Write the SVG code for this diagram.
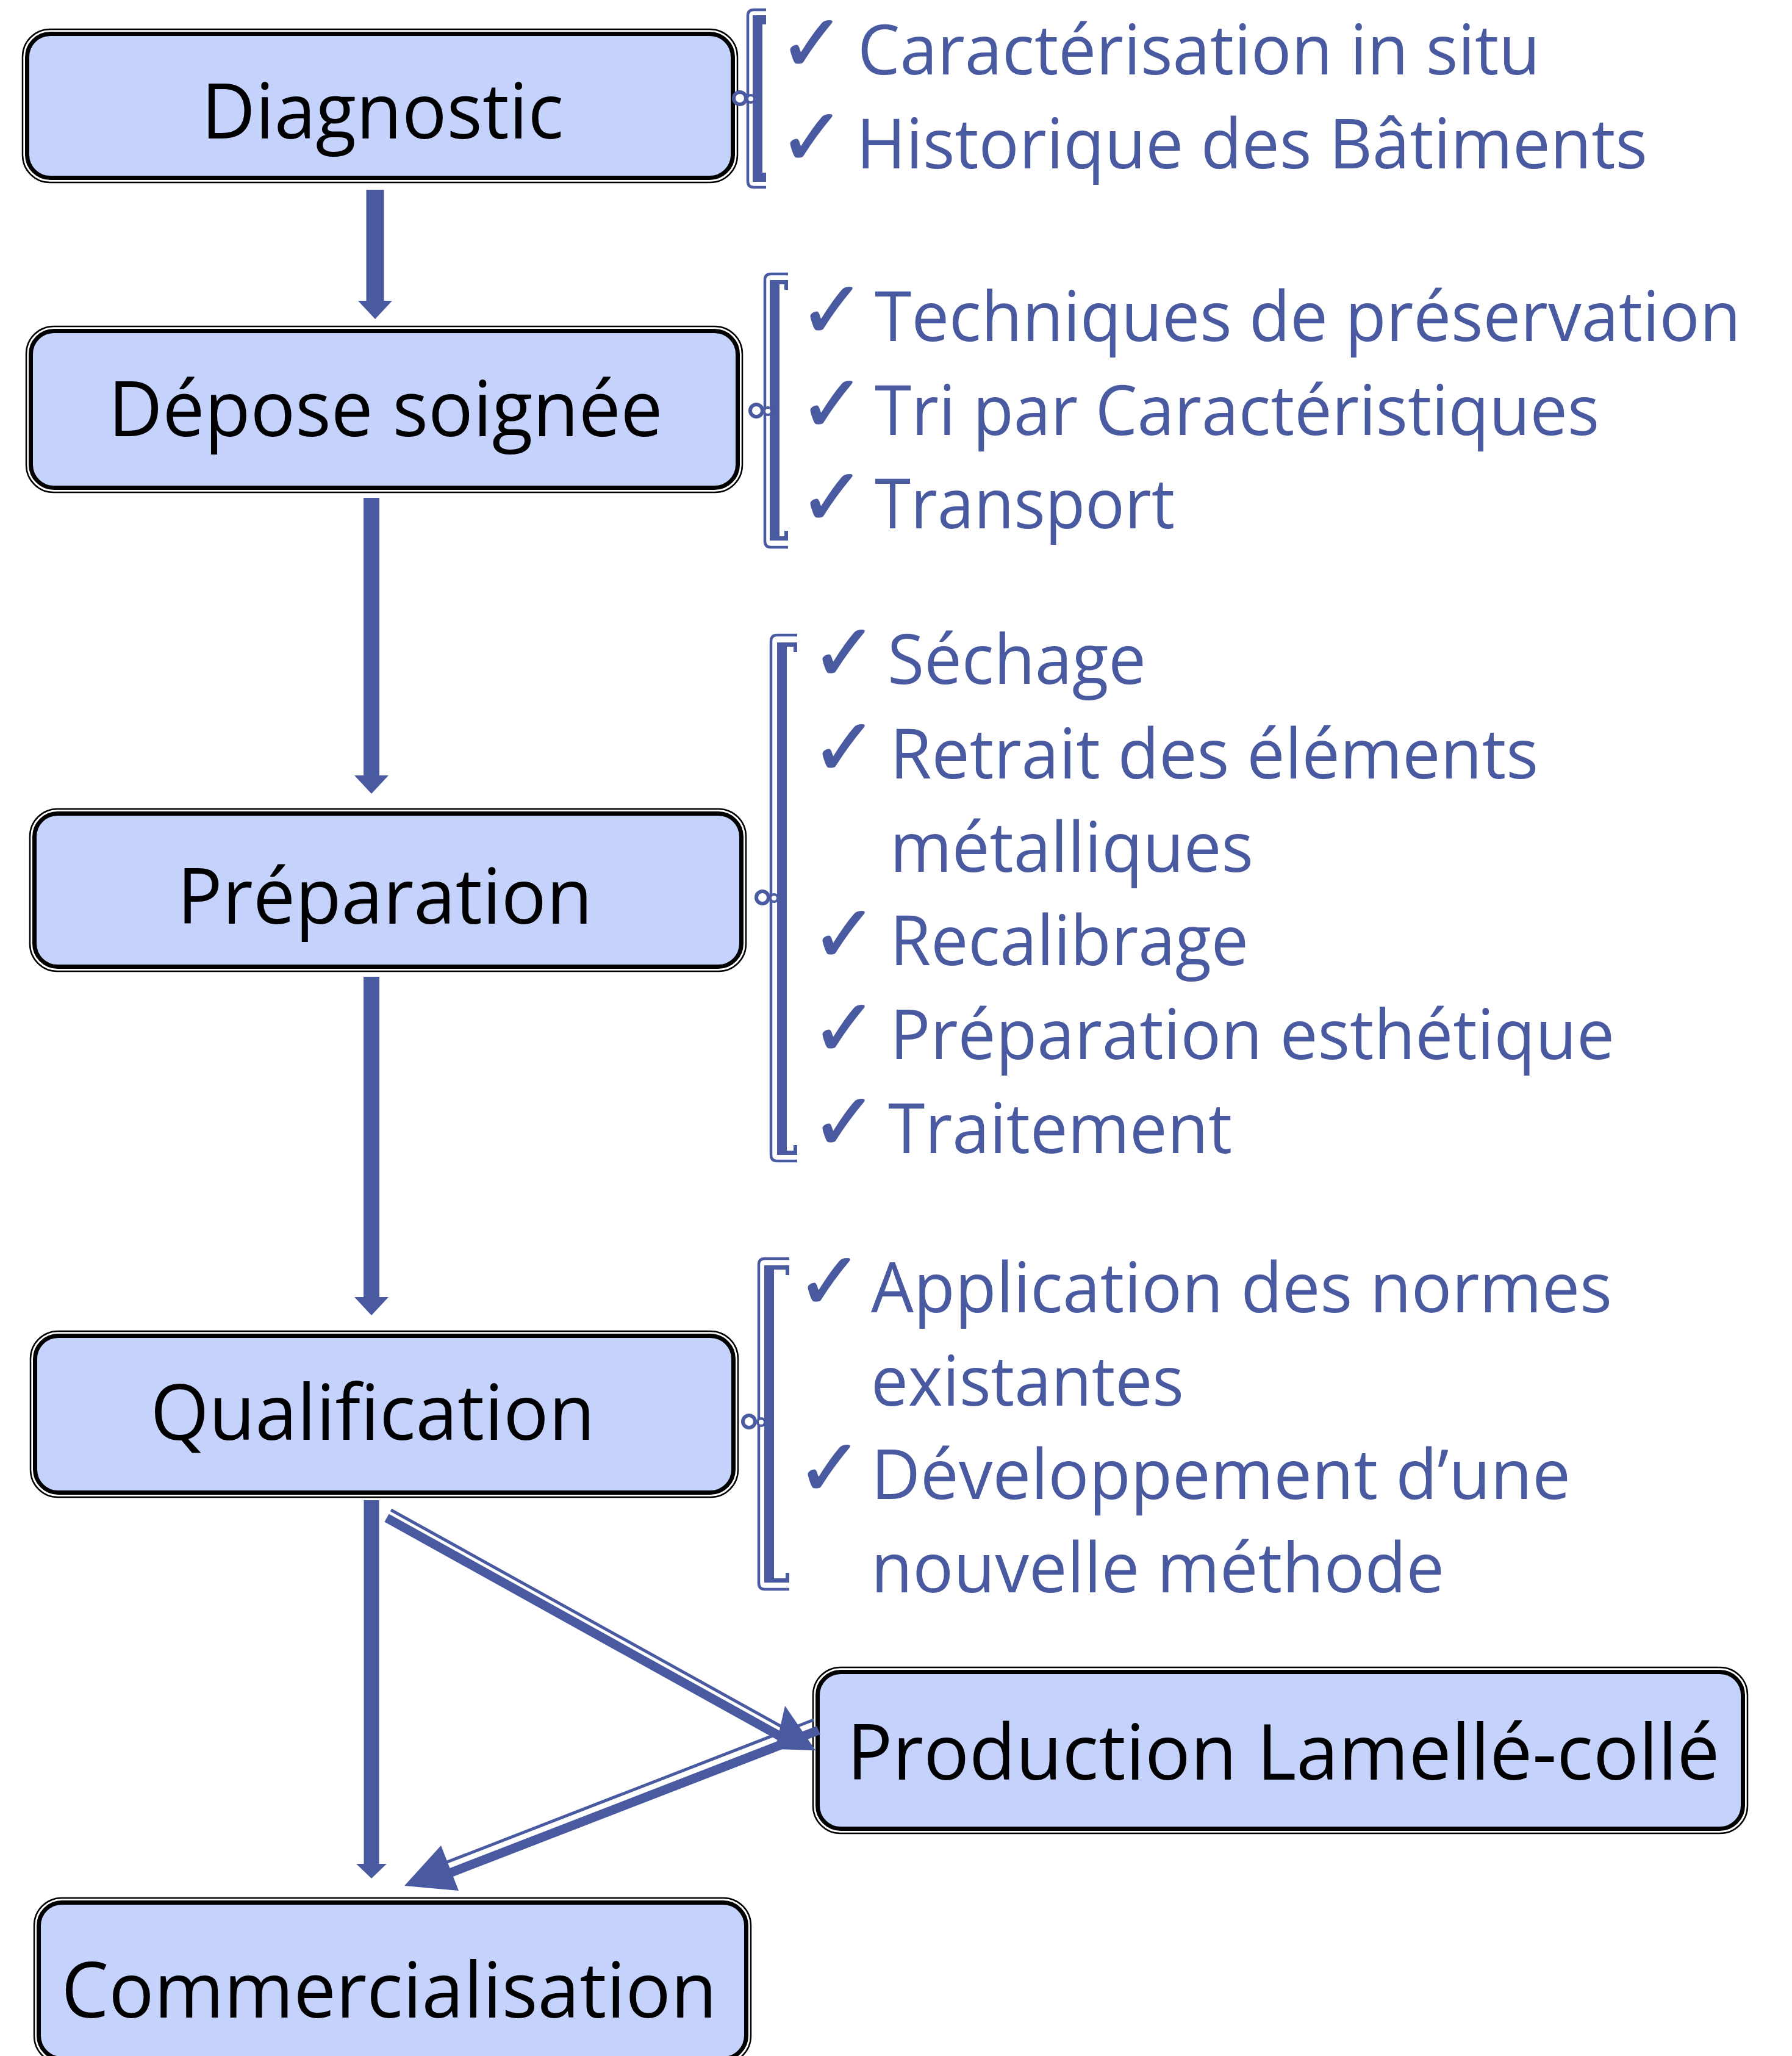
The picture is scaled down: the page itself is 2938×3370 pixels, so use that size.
<svg xmlns="http://www.w3.org/2000/svg" width="2938" height="3370" viewBox="0 0 2938 3370">
<defs>
<style>
.box-outer{fill:none;stroke:#000;stroke-width:2.5}
.box-inner{fill:#C5D3FC;stroke:#000;stroke-width:7}
.node-text{font-family:"Open Sans","Liberation Sans",sans-serif;font-size:127px;fill:#000;text-anchor:middle}
.item{font-family:"Open Sans","Liberation Sans",sans-serif;font-size:113px;fill:#4A5AA0}
.check{font-family:"DejaVu Sans",sans-serif;font-size:130px;fill:#4A5AA0;stroke:#4A5AA0;stroke-width:2}
.shaft{stroke:#4A5AA0;fill:none}
.head{fill:#4A5AA0}
.br-thin{fill:none;stroke:#4A5AA0;stroke-width:4.5}
.br-thick{fill:#4A5AA0}
.knob{fill:#fff;stroke:#4A5AA0;stroke-width:6}
.knob2{fill:#fff;stroke:#4A5AA0;stroke-width:4}
</style>
<marker id="ah" markerUnits="userSpaceOnUse" markerWidth="30" markerHeight="56" viewBox="0 0 30 56" refX="0" refY="28" orient="auto">
<path d="M0,0 L30,28 L0,56 z" fill="#4A5AA0"/>
</marker>
<marker id="ah2" markerUnits="userSpaceOnUse" markerWidth="24" markerHeight="50" viewBox="0 0 24 50" refX="0" refY="25" orient="auto">
<path d="M0,0 L24,25 L0,50 z" fill="#4A5AA0"/>
</marker>
</defs>
<rect width="2938" height="3370" fill="#fff"/>

<g id="node-diagnostic">
<rect class="box-outer" x="37" y="48" width="1172" height="251" rx="45"/>
<rect class="box-inner" x="44.5" y="55.5" width="1157" height="236" rx="38"/>
<text class="node-text" x="627" y="227" textLength="594" lengthAdjust="spacingAndGlyphs">Diagnostic</text>
</g>
<g id="node-depose">
<rect class="box-outer" x="43" y="535" width="1174" height="272" rx="45"/>
<rect class="box-inner" x="50.5" y="542.5" width="1159" height="257" rx="38"/>
<text class="node-text" x="632" y="715" textLength="909" lengthAdjust="spacingAndGlyphs">Dépose soignée</text>
</g>
<g id="node-preparation">
<rect class="box-outer" x="49" y="1326" width="1174" height="266" rx="45"/>
<rect class="box-inner" x="56.5" y="1333.5" width="1159" height="251" rx="38"/>
<text class="node-text" x="631" y="1514" textLength="681" lengthAdjust="spacingAndGlyphs">Préparation</text>
</g>
<g id="node-qualification">
<rect class="box-outer" x="50" y="2182" width="1160" height="272" rx="45"/>
<rect class="box-inner" x="57.5" y="2189.5" width="1145" height="257" rx="38"/>
<text class="node-text" x="611" y="2360" textLength="729" lengthAdjust="spacingAndGlyphs">Qualification</text>
</g>
<g id="node-production">
<rect class="box-outer" x="1333" y="2733" width="1532" height="272" rx="45"/>
<rect class="box-inner" x="1340.5" y="2740.5" width="1517" height="257" rx="38"/>
<text class="node-text" x="2104" y="2917" textLength="1431" lengthAdjust="spacingAndGlyphs">Production Lamellé-collé</text>
</g>
<g id="node-commercialisation">
<rect class="box-outer" x="56" y="3111" width="1175" height="271" rx="45"/>
<rect class="box-inner" x="63.5" y="3118.5" width="1160" height="256" rx="38"/>
<text class="node-text" x="638" y="3307" textLength="1075" lengthAdjust="spacingAndGlyphs">Commercialisation</text>
</g>

<g id="list-diagnostic">
<path class="br-thin" d="M1256,16 H1236 Q1226,16 1226,26 V297 Q1226,307 1236,307 H1256"/>
<path class="br-thick" d="M1234,25 H1256 V40 H1250 V32 H1250 V291 H1250 V283 H1256 V298 H1234 Z"/>
<circle class="knob" cx="1213" cy="161" r="10"/>
<circle class="knob2" cx="1231" cy="162" r="6"/>
<text class="check" x="1277" y="116">✓</text>
<text class="check" x="1277" y="270">✓</text>
<text class="item" x="1406" y="122" textLength="1119" lengthAdjust="spacingAndGlyphs">Caractérisation in situ</text>
<text class="item" x="1404" y="276" textLength="1297" lengthAdjust="spacingAndGlyphs">Historique des Bâtiments</text>
</g>

<g id="list-depose">
<path class="br-thin" d="M1292,449 H1264 Q1254,449 1254,459 V887 Q1254,897 1264,897 H1292"/>
<path class="br-thick" d="M1262,459 H1292 V475 H1286 V466 H1278 V879 H1286 V870 H1292 V886 H1262 Z"/>
<circle class="knob" cx="1240" cy="673" r="10"/>
<circle class="knob2" cx="1259" cy="674" r="6"/>
<text class="check" x="1310" y="553">✓</text>
<text class="check" x="1310" y="707">✓</text>
<text class="check" x="1310" y="860">✓</text>
<text class="item" x="1434" y="559" textLength="1420" lengthAdjust="spacingAndGlyphs">Techniques de préservation</text>
<text class="item" x="1434" y="713" textLength="1188" lengthAdjust="spacingAndGlyphs">Tri par Caractéristiques</text>
<text class="item" x="1434" y="866" textLength="492" lengthAdjust="spacingAndGlyphs">Transport</text>
</g>

<g id="list-preparation">
<path class="br-thin" d="M1307,1041 H1274 Q1264,1041 1264,1051 V1893 Q1264,1903 1274,1903 H1307"/>
<path class="br-thick" d="M1274,1053 H1307 V1069 H1301 V1060 H1290 V1886 H1301 V1877 H1307 V1893 H1274 Z"/>
<circle class="knob" cx="1250" cy="1471" r="10"/>
<circle class="knob2" cx="1269" cy="1472" r="6"/>
<text class="check" x="1330" y="1115">✓</text>
<text class="check" x="1330" y="1270">✓</text>
<text class="check" x="1330" y="1576">✓</text>
<text class="check" x="1330" y="1730">✓</text>
<text class="check" x="1330" y="1884">✓</text>
<text class="item" x="1455" y="1121" textLength="424" lengthAdjust="spacingAndGlyphs">Séchage</text>
<text class="item" x="1459" y="1276" textLength="1063" lengthAdjust="spacingAndGlyphs">Retrait des éléments</text>
<text class="item" x="1459" y="1429" textLength="596" lengthAdjust="spacingAndGlyphs">métalliques</text>
<text class="item" x="1459" y="1582" textLength="588" lengthAdjust="spacingAndGlyphs">Recalibrage</text>
<text class="item" x="1459" y="1736" textLength="1188" lengthAdjust="spacingAndGlyphs">Préparation esthétique</text>
<text class="item" x="1456" y="1890" textLength="564" lengthAdjust="spacingAndGlyphs">Traitement</text>
</g>

<g id="list-qualification">
<path class="br-thin" d="M1294,2063 H1254 Q1244,2063 1244,2073 V2595 Q1244,2605 1254,2605 H1294"/>
<path class="br-thick" d="M1253,2074 H1294 V2090 H1288 V2081 H1269 V2587 H1288 V2578 H1294 V2594 H1253 Z"/>
<circle class="knob" cx="1228" cy="2330" r="10"/>
<circle class="knob2" cx="1248" cy="2331" r="6"/>
<text class="check" x="1306" y="2145">✓</text>
<text class="check" x="1306" y="2451">✓</text>
<text class="item" x="1428" y="2151" textLength="1215" lengthAdjust="spacingAndGlyphs">Application des normes</text>
<text class="item" x="1428" y="2304" textLength="513" lengthAdjust="spacingAndGlyphs">existantes</text>
<text class="item" x="1428" y="2457" textLength="1147" lengthAdjust="spacingAndGlyphs">Développement d’une</text>
<text class="item" x="1428" y="2610" textLength="940" lengthAdjust="spacingAndGlyphs">nouvelle méthode</text>
</g>

<g id="connectors">
<line class="shaft" x1="615" y1="311" x2="615" y2="493" stroke-width="29" marker-end="url(#ah)"/>
<line class="shaft" x1="609" y1="816" x2="609" y2="1271" stroke-width="26" marker-end="url(#ah)"/>
<line class="shaft" x1="609" y1="1601" x2="609" y2="2126" stroke-width="26" marker-end="url(#ah)"/>
<line class="shaft" x1="609" y1="2459" x2="609" y2="3055" stroke-width="25" marker-end="url(#ah2)"/>
<line class="shaft" x1="1342" y1="2836" x2="735" y2="3071" stroke-width="15"/>
<line class="shaft" x1="1334" y1="2819" x2="728" y2="3054" stroke-width="5"/>
<polygon class="head" points="723,3025 663,3091 752,3099"/>
<line class="shaft" x1="634" y1="2488" x2="1290" y2="2852" stroke-width="15"/>
<line class="shaft" x1="641" y1="2475" x2="1283" y2="2831" stroke-width="5"/>
<polygon class="head" points="1287,2796 1337,2869 1271,2867"/>
</g>
</svg>
